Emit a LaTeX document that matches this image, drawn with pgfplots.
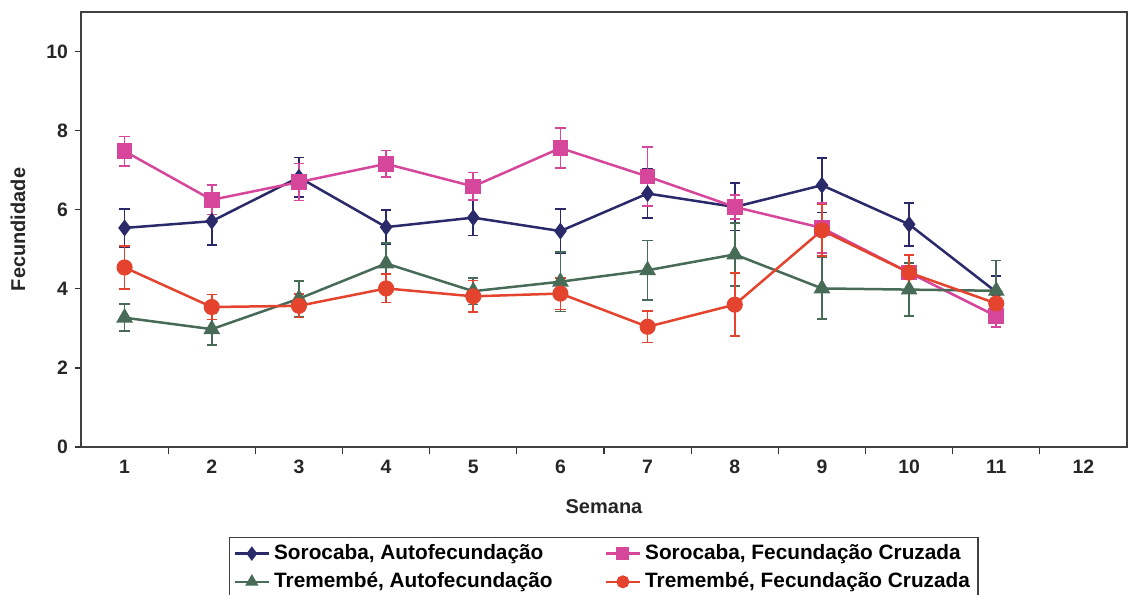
\documentclass[border=0pt]{standalone}
\usepackage{fontspec}
\setmainfont{Liberation Sans}
\usepackage{pgfplots}
\pgfplotsset{compat=1.18}
\definecolor{cnavy}{HTML}{2A2A6A}
\definecolor{cpink}{HTML}{D6469A}
\definecolor{cgreen}{HTML}{486B58}
\definecolor{cred}{HTML}{E4432E}
\begin{document}
\begin{tikzpicture}
\begin{axis}[
  scale only axis,
  width=523pt, height=217.5pt,
  xmin=0.5, xmax=12.5, ymin=0, ymax=11,
  xtick={1,...,12},
  minor xtick={1.5,2.5,...,11.5},
  ytick={0,2,...,10},
  xtick pos=bottom, ytick pos=left,
  tick align=outside,
  major x tick style={draw=none},
  minor tick length=3.5pt,
  major tick length=3pt,
  tick style={line width=0.6pt, color=black!80},
  axis line style={line width=0.6pt, color=black!75},
  /pgf/number format/assume math mode=true,
  ticklabel style={font=\bfseries\fontsize{9.7}{11}\selectfont, text=black!85},
  xlabel={Semana},
  ylabel={Fecundidade},
  label style={font=\bfseries\fontsize{10}{12}\selectfont, text=black!85},
  xlabel style={at={(axis description cs:0.5,-0.138)}, anchor=center},
  ylabel style={at={(axis description cs:-0.0602,0.5)}, anchor=center},
  legend columns=2,
  legend cell align=left,
  legend style={at={(0.1415,-0.2069)}, anchor=north west, draw=black!75, line width=0.6pt,
    font=\bfseries\fontsize{10.4}{12}\selectfont, inner xsep=2pt, inner ysep=1.5pt,
    row sep=1pt,
    /tikz/every even column/.append style={column sep=24pt}},
  legend image code/.code={\draw[mark repeat=2,mark phase=2,mark size=2.6pt] plot coordinates {(0pt,0pt)(8.5pt,0pt)(17pt,0pt)};},
  every axis plot/.append style={line width=1.25pt},
  error bars/error bar style={line width=0.8pt, solid},
  error bars/error mark options={mark size=2.6pt, line width=0.8pt, rotate=90},
]
\addplot+[color=cnavy, mark=diamond*, mark size=3.2pt, mark options={fill=cnavy, solid},
  error bars/.cd, y dir=both, y explicit]
  table[x=x, y=y, y error=e] {
x y e
1 5.54 0.48
2 5.71 0.60
3 6.82 0.50
4 5.56 0.43
5 5.80 0.45
6 5.46 0.56
7 6.41 0.62
8 6.07 0.60
9 6.62 0.69
10 5.63 0.54
11 3.92 0.40
};
\addlegendentry{Sorocaba, Autofecundação}
\addplot+[color=cpink, mark=square*, mark size=3.3pt, mark options={fill=cpink, solid},
  error bars/.cd, y dir=both, y explicit]
  table[x=x, y=y, y error=e] {
x y e
1 7.48 0.37
2 6.25 0.37
3 6.70 0.47
4 7.16 0.34
5 6.59 0.35
6 7.56 0.50
7 6.84 0.74
8 6.07 0.30
9 5.54 0.63
10 4.41 0.45
11 3.31 0.27
};
\addlegendentry{Sorocaba, Fecundação Cruzada}
\addplot+[color=cgreen, mark=triangle*, mark size=3.6pt, mark options={fill=cgreen, solid},
  error bars/.cd, y dir=both, y explicit]
  table[x=x, y=y, y error=e] {
x y e
1 3.27 0.34
2 2.98 0.40
3 3.75 0.45
4 4.64 0.52
5 3.94 0.34
6 4.18 0.75
7 4.47 0.75
8 4.87 0.80
9 4.01 0.78
10 3.98 0.67
11 3.95 0.77
};
\addlegendentry{Tremembé, Autofecundação}
\addplot+[color=cred, mark=*, mark size=3.4pt, mark options={fill=cred, solid},
  error bars/.cd, y dir=both, y explicit]
  table[x=x, y=y, y error=e] {
x y e
1 4.54 0.55
2 3.54 0.32
3 3.57 0.30
4 4.01 0.36
5 3.81 0.40
6 3.88 0.40
7 3.04 0.40
8 3.60 0.80
9 5.48 0.65
10 4.41 0.45
11 3.63 0.20
};
\addlegendentry{Tremembé, Fecundação Cruzada}
\end{axis}
\pgfresetboundingbox
\path[use as bounding box] (-40.5pt,-73.5pt) rectangle (523.5pt,223.5pt);
\end{tikzpicture}
\end{document}
